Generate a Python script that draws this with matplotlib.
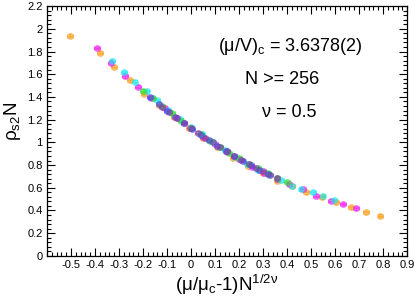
#!/usr/bin/env python3
"""Scaling collapse of rho_s2 N versus (mu/mu_c - 1) N^{1/2nu}."""

import matplotlib
matplotlib.use("Agg")
from matplotlib import pyplot as plt
from matplotlib.ticker import FixedLocator, MultipleLocator, FuncFormatter

plt.rcParams["font.family"] = ["Liberation Sans", "DejaVu Sans"]
plt.rcParams["mathtext.fontset"] = "custom"
plt.rcParams["mathtext.rm"] = "Liberation Sans"
plt.rcParams["mathtext.it"] = "Liberation Sans"
plt.rcParams["mathtext.default"] = "regular"
plt.rcParams["axes.unicode_minus"] = False

# series, one per system size
orange_x = [-0.504, -0.38, -0.32, -0.255, -0.195, -0.132, -0.07, -0.01, 0.05, 0.11, 0.174,
            0.236, 0.299, 0.36, 0.42, 0.48, 0.545, 0.605, 0.667, 0.729, 0.789]
orange_y = [1.94, 1.79, 1.665, 1.545, 1.428, 1.325, 1.22, 1.125, 1.035, 0.957, 0.865,
            0.795, 0.727, 0.663, 0.618, 0.559, 0.515, 0.471, 0.427, 0.383, 0.353]

magenta_x = [-0.39, -0.335, -0.275, -0.22, -0.165, -0.11, -0.06, -0.005, 0.05, 0.10, 0.15,
             0.20, 0.255, 0.305, 0.36, 0.41, 0.465, 0.52, 0.583, 0.632, 0.688]
magenta_y = [1.83, 1.70, 1.58, 1.49, 1.39, 1.30, 1.215, 1.13, 1.05, 0.985, 0.915,
             0.85, 0.785, 0.73, 0.675, 0.63, 0.585, 0.53, 0.486, 0.457, 0.418]

cyan_x = [-0.33, -0.28, -0.235, -0.185, -0.14, -0.095, -0.045, 0.0, 0.045, 0.09, 0.14,
          0.185, 0.235, 0.28, 0.325, 0.375, 0.42, 0.46, 0.507, 0.548, 0.597]
cyan_y = [1.72, 1.62, 1.535, 1.45, 1.37, 1.285, 1.205, 1.135, 1.07, 1.005, 0.935,
          0.875, 0.81, 0.76, 0.715, 0.665, 0.62, 0.585, 0.559, 0.53, 0.492]

green_x = [-0.2, -0.16, -0.12, -0.08, -0.04, 0.0, 0.04, 0.08, 0.12, 0.16, 0.2,
           0.24, 0.28, 0.32, 0.36, 0.40]
green_y = [1.455, 1.39, 1.32, 1.255, 1.19, 1.13, 1.07, 1.015, 0.96, 0.91, 0.86,
           0.81, 0.77, 0.73, 0.69, 0.65]

blue_x = [-0.17, -0.135, -0.10, -0.065, -0.03, 0.005, 0.04, 0.075, 0.11, 0.145, 0.18,
          0.215, 0.25, 0.285, 0.32]
blue_y = [1.40, 1.34, 1.28, 1.225, 1.17, 1.12, 1.065, 1.02, 0.97, 0.925, 0.88,
          0.84, 0.80, 0.76, 0.725]

purple_x = [-0.12, -0.09, -0.06, -0.03, 0.0, 0.03, 0.06, 0.09, 0.12, 0.15, 0.18,
            0.21, 0.24, 0.27, 0.30, 0.33, 0.36]
purple_y = [1.31, 1.265, 1.215, 1.17, 1.125, 1.085, 1.04, 1.0, 0.96, 0.92, 0.88,
            0.845, 0.81, 0.775, 0.745, 0.715, 0.69]

SERIES = [
    (orange_x, orange_y, "#F9A021"),
    (magenta_x, magenta_y, "#F020F0"),
    (cyan_x, cyan_y, "#20E8F0"),
    (green_x, green_y, "#30E030"),
    (blue_x, blue_y, "#4848F0"),
    (purple_x, purple_y, "#8040A8"),
]

X_TICKS = [-0.5, -0.4, -0.3, -0.2, -0.1, 0.0, 0.1, 0.2, 0.3, 0.4, 0.5, 0.6, 0.7, 0.8, 0.9]
Y_TICKS = [0.0, 0.2, 0.4, 0.6, 0.8, 1.0, 1.2, 1.4, 1.6, 1.8, 2.0, 2.2]


def fmt(v, _pos=None):
    return f"{v:g}" if abs(v) > 1e-9 else "0"


def main() -> None:
    fig = plt.figure(figsize=(4.15, 3.04), dpi=100)
    ax = fig.add_axes([0.113, 0.158, 0.868, 0.822])

    for xs, ys, c in SERIES:
        ax.errorbar(xs, ys, xerr=0.012, yerr=0.012, fmt="o", ms=4.0, color=c, mec=c,
                    alpha=0.55, elinewidth=0.8, capsize=1.3, capthick=0.8)

    ax.set_xlim(-0.6, 0.9)
    ax.set_ylim(-0.0005, 2.2)
    ax.xaxis.set_major_locator(FixedLocator(X_TICKS))
    ax.yaxis.set_major_locator(FixedLocator(Y_TICKS))
    ax.xaxis.set_minor_locator(MultipleLocator(0.02))
    ax.yaxis.set_minor_locator(MultipleLocator(0.04))
    ax.xaxis.set_major_formatter(FuncFormatter(fmt))
    ax.yaxis.set_major_formatter(FuncFormatter(fmt))
    ax.tick_params(which="both", direction="in", top=True, right=True, width=0.8)
    ax.tick_params(which="major", length=6, labelsize=8, pad=3)
    ax.tick_params(which="minor", length=3)
    for sp in ax.spines.values():
        sp.set_linewidth(0.9)

    ax.set_xlabel("(μ/μ$_c$-1)N$^{1/2ν}$", fontsize=13.5, labelpad=2)
    ax.set_ylabel("ρ$_{s2}$N", fontsize=13.5)
    ax.yaxis.set_label_coords(-0.067, 0.54)

    ax.text(0.475, 0.822, "(μ/V)$_c$ = 3.6378(2)", transform=ax.transAxes, fontsize=13)
    ax.text(0.55, 0.688, "N >= 256", transform=ax.transAxes, fontsize=13)
    ax.text(0.597, 0.556, "ν = 0.5", transform=ax.transAxes, fontsize=13)

    fig.savefig("out.png", dpi=100)


if __name__ == "__main__":
    main()
